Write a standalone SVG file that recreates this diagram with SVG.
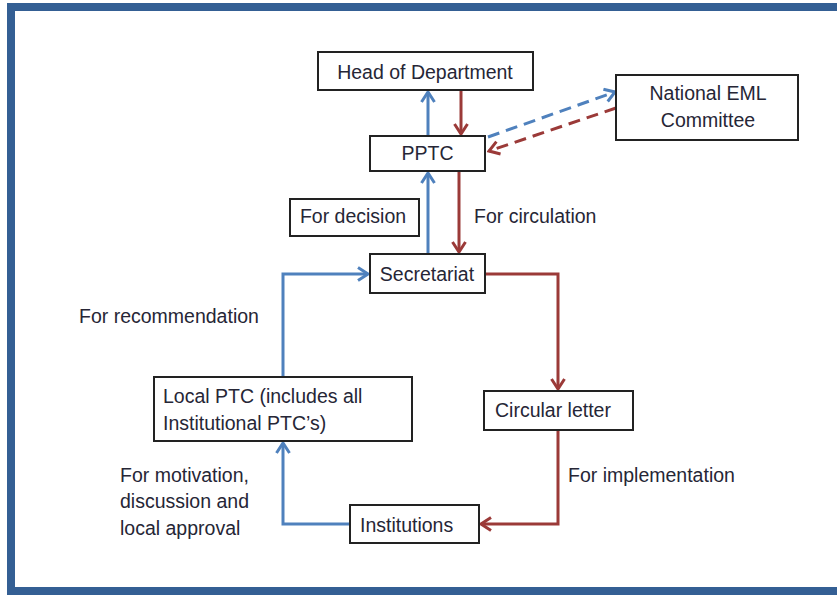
<svg xmlns="http://www.w3.org/2000/svg" width="837" height="596" viewBox="0 0 837 596">
<defs>
<style>
.box{fill:#fff;stroke:#222;stroke-width:2}
.t{font-family:"Liberation Sans",Arial,sans-serif;font-size:19.5px;fill:#262636}
.c{text-anchor:middle}
.b{fill:none;stroke:#4f81bd;stroke-width:3}
.r{fill:none;stroke:#9b3a38;stroke-width:3}
.d{stroke-dasharray:12 7}
</style>
<marker id="ab" viewBox="0 0 16 16" refX="14" refY="8" markerWidth="16" markerHeight="16" markerUnits="userSpaceOnUse" orient="auto"><path d="M4,1.5 L14,8 L4,14.5" fill="none" stroke="#4f81bd" stroke-width="3" stroke-linejoin="miter"/></marker>
<marker id="ar" viewBox="0 0 16 16" refX="14" refY="8" markerWidth="16" markerHeight="16" markerUnits="userSpaceOnUse" orient="auto"><path d="M4,1.5 L14,8 L4,14.5" fill="none" stroke="#9b3a38" stroke-width="3" stroke-linejoin="miter"/></marker>
</defs>
<rect x="0" y="0" width="837" height="596" fill="#fff"/>
<rect x="11" y="7" width="840" height="584" fill="none" stroke="#345f94" stroke-width="8"/>
<g id="connectors">
<path class="b" d="M428,136 L428,92" marker-end="url(#ab)"/>
<path class="r" d="M461,91 L461,134" marker-end="url(#ar)"/>
<path class="b d" d="M488,137 L615,92" marker-end="url(#ab)"/>
<path class="r d" d="M616,108 L489,151" marker-end="url(#ar)"/>
<path class="b" d="M428,254 L428,173" marker-end="url(#ab)"/>
<path class="r" d="M459,172 L459,252" marker-end="url(#ar)"/>
<path class="b" d="M283,377 L283,274 L368,274" marker-end="url(#ab)"/>
<path class="r" d="M486,274 L558,274 L558,389" marker-end="url(#ar)"/>
<path class="r" d="M558,431 L558,524 L481,524" marker-end="url(#ar)"/>
<path class="b" d="M349,524 L283,524 L283,443" marker-end="url(#ab)"/>
</g>
<g id="hod"><rect class="box" x="318" y="52" width="215" height="38"/><text class="t c" x="425" y="79">Head of Department</text></g>
<g id="pptc"><rect class="box" x="370" y="136" width="115" height="35"/><text class="t c" x="427.5" y="160">PPTC</text></g>
<g id="national"><rect class="box" x="616" y="75" width="182" height="65"/><text class="t c" x="708" y="100">National EML</text><text class="t c" x="708" y="127">Committee</text></g>
<g id="decision"><rect class="box" x="290" y="199" width="129" height="37"/><text class="t c" x="353" y="223">For decision</text></g>
<g id="secretariat"><rect class="box" x="370" y="254" width="115" height="39"/><text class="t c" x="427" y="281">Secretariat</text></g>
<g id="localptc"><rect class="box" x="154" y="377" width="258" height="64"/><text class="t" x="163" y="403">Local PTC (includes all</text><text class="t" x="163" y="430">Institutional PTC’s)</text></g>
<g id="circular"><rect class="box" x="484" y="391" width="149" height="39"/><text class="t" x="495" y="417">Circular letter</text></g>
<g id="institutions"><rect class="box" x="350" y="505" width="129" height="38"/><text class="t" x="360" y="532">Institutions</text></g>
<g id="labels">
<text class="t" x="474" y="223">For circulation</text>
<text class="t" x="79" y="323">For recommendation</text>
<text class="t" x="120" y="482">For motivation,</text>
<text class="t" x="120" y="508">discussion and</text>
<text class="t" x="120" y="535">local approval</text>
<text class="t" x="568" y="482">For implementation</text>
</g>
</svg>
